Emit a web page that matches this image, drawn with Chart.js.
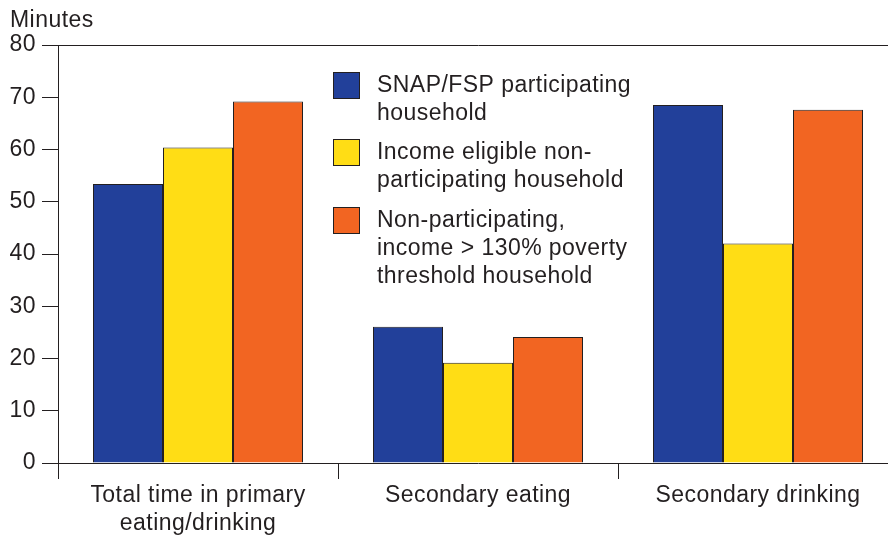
<!DOCTYPE html>
<html>
<head>
<meta charset="utf-8">
<script src="https://cdn.jsdelivr.net/npm/chart.js@4.4.1/dist/chart.umd.min.js"></script>
<style>
  html, body { margin: 0; padding: 0; background: #fff; overflow: hidden; }
  #wrap { width: 900px; height: 537px; }
</style>
</head>
<body>
<div id="wrap"><canvas id="chart" width="900" height="537"></canvas></div>
<script>
// data
const categories = [['Total time in primary', 'eating/drinking'], 'Secondary eating', 'Secondary drinking'];
const seriesNames = [
  ['SNAP/FSP participating', 'household'],
  ['Income eligible non-', 'participating household'],
  ['Non-participating,', 'income > 130% poverty', 'threshold household']
];
const snapValues = [53.4, 26.1, 68.5];
const eligibleValues = [60.4, 19.2, 42.0];
const higherIncomeValues = [69.2, 24.1, 67.6];
const yTicks = [0, 10, 20, 30, 40, 50, 60, 70, 80];

const textColor = '#231f20';
const lineColor = '#231f20';
const fontFamily = '"Liberation Sans", Arial, Helvetica, sans-serif';
const colors = ['#22409a', '#ffdd15', '#f26522'];

// slightly wider text, like the original print font
const spacing = {
  id: 'spacing',
  beforeDraw(chart) {
    chart.ctx.letterSpacing = '0.45px';
  }
};

// "Minutes" label above the y axis
const unitLabel = {
  id: 'unitLabel',
  afterDraw(chart) {
    const ctx = chart.ctx;
    ctx.save();
    ctx.font = '23px ' + fontFamily;
    ctx.fillStyle = textColor;
    ctx.textAlign = 'left';
    ctx.textBaseline = 'alphabetic';
    ctx.fillText('Minutes', 10, 27);
    ctx.restore();
  }
};

// legend with wrapped labels, drawn inside the plot
const boxLegend = {
  id: 'boxLegend',
  afterDraw(chart) {
    const ctx = chart.ctx;
    const tops = [72, 139, 207];
    ctx.save();
    ctx.font = '23px ' + fontFamily;
    ctx.textAlign = 'left';
    ctx.textBaseline = 'alphabetic';
    chart.data.datasets.forEach((ds, i) => {
      const y = tops[i];
      ctx.fillStyle = ds.backgroundColor;
      ctx.fillRect(333, y, 27, 27);
      ctx.strokeStyle = lineColor;
      ctx.lineWidth = 1;
      ctx.strokeRect(333.5, y + 0.5, 26, 26);
      ctx.fillStyle = textColor;
      ds.label.forEach((line, j) => {
        ctx.fillText(line, 377, y + 20 + j * 28);
      });
    });
    ctx.restore();
  }
};

new Chart(document.getElementById('chart'), {
  type: 'bar',
  data: {
    labels: categories,
    datasets: [
      { label: seriesNames[0], data: snapValues, backgroundColor: colors[0] },
      { label: seriesNames[1], data: eligibleValues, backgroundColor: colors[1] },
      { label: seriesNames[2], data: higherIncomeValues, backgroundColor: colors[2] }
    ].map(d => Object.assign(d, {
      borderColor: lineColor,
      borderWidth: 1,
      categoryPercentage: 0.75,
      barPercentage: 1.0
    }))
  },
  options: {
    responsive: false,
    animation: false,
    layout: { padding: { top: 45, right: 2, left: 0, bottom: 0 } },
    plugins: {
      legend: { display: false },
      tooltip: { enabled: false }
    },
    scales: {
      x: {
        offset: true,
        grid: {
          offset: true,
          drawOnChartArea: false,
          color: lineColor,
          tickColor: lineColor,
          tickLength: 16
        },
        border: { display: true, color: lineColor, width: 1 },
        ticks: {
          color: textColor,
          font: { family: fontFamily, size: 23 },
          padding: 3,
          maxRotation: 0
        },
        afterFit(scale) { scale.height = 74; }
      },
      y: {
        min: 0,
        max: 80,
        afterBuildTicks(scale) { scale.ticks = yTicks.map(v => ({ value: v })); },
        grid: {
          color: ctx => (ctx.tick && ctx.tick.value === 80) ? lineColor : 'rgba(0,0,0,0)',
          tickColor: lineColor,
          tickLength: 16
        },
        border: { display: true, color: lineColor, width: 1 },
        ticks: {
          color: textColor,
          font: { family: fontFamily, size: 23 },
          padding: 6
        },
        afterFit(scale) { scale.width = 58; }
      }
    }
  },
  plugins: [spacing, unitLabel, boxLegend]
});
</script>
</body>
</html>
